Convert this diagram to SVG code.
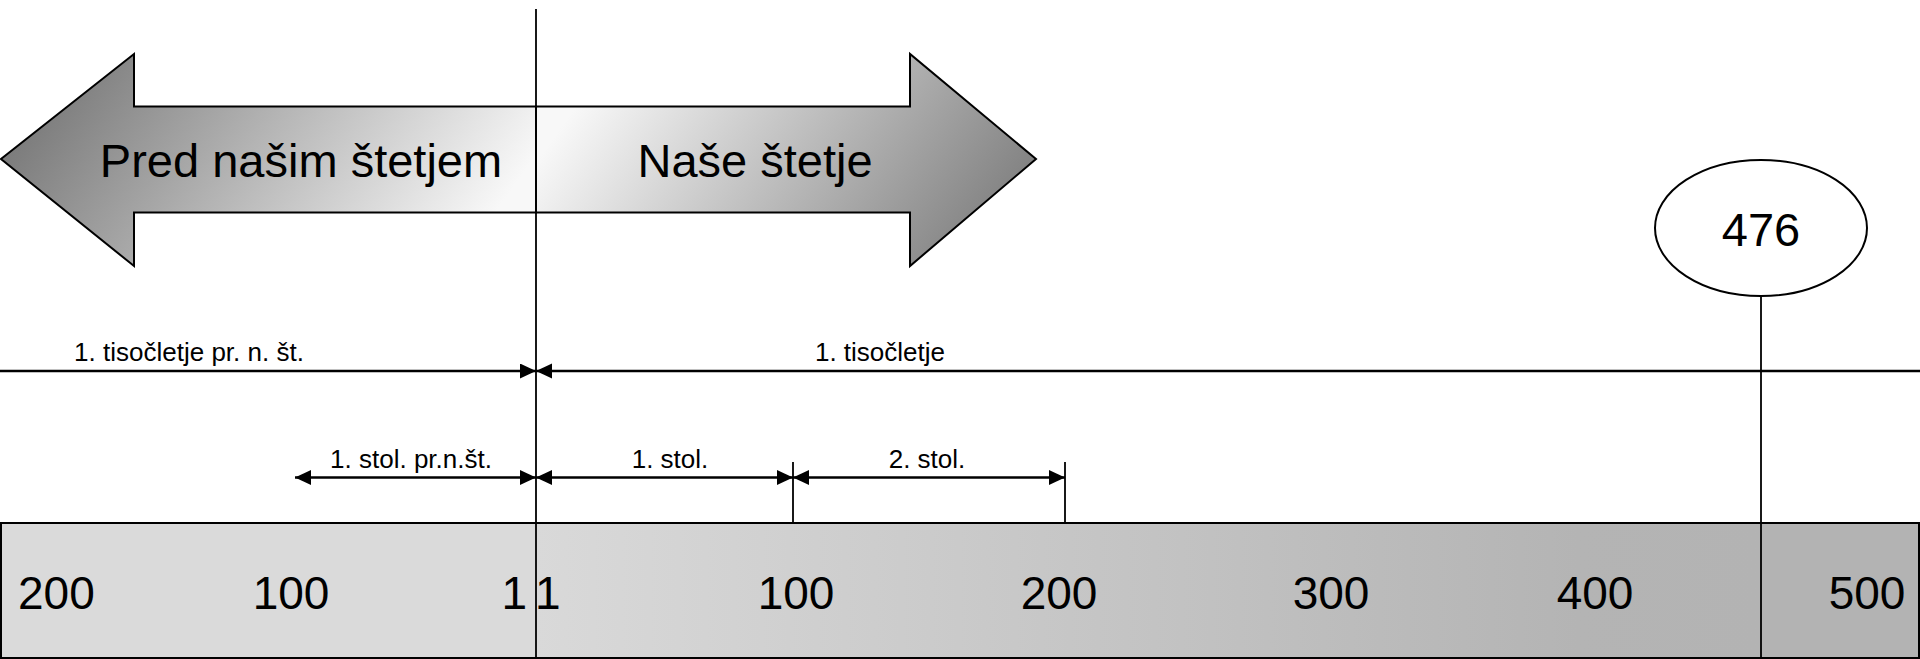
<svg xmlns="http://www.w3.org/2000/svg" width="1920" height="659" viewBox="0 0 1920 659">
<style>
text{font-family:"Liberation Sans",Arial,sans-serif;fill:#000}
.big{font-size:47px}
.num{font-size:46px}
.sm{font-size:26px}
.c{text-anchor:middle}
.ln{stroke:#000;stroke-width:2.7;fill:none}
.thin{stroke:#000;stroke-width:1.8;fill:none}
.sh{stroke:#000;stroke-width:2;stroke-linejoin:miter}
</style>
<defs>
<marker id="ah" markerUnits="userSpaceOnUse" markerWidth="16" markerHeight="16" refX="16" refY="7.5" orient="auto-start-reverse">
<path d="M0,0 L16,7.5 L0,15 z" fill="#000"/>
</marker>
<linearGradient id="gl" gradientUnits="userSpaceOnUse" x1="90" y1="40" x2="440" y2="290">
<stop offset="0" stop-color="#7c7c7c"/>
<stop offset="1" stop-color="#f8f8f8"/>
</linearGradient>
<linearGradient id="gr" gradientUnits="userSpaceOnUse" x1="632" y1="28" x2="982" y2="278">
<stop offset="0" stop-color="#f8f8f8"/>
<stop offset="1" stop-color="#7c7c7c"/>
</linearGradient>
<linearGradient id="gb" gradientUnits="userSpaceOnUse" x1="536" y1="0" x2="1761" y2="0">
<stop offset="0" stop-color="#d9d9d9"/>
<stop offset="0.85" stop-color="#b4b4b4"/>
<stop offset="1" stop-color="#b3b3b3"/>
</linearGradient>
</defs>

<g id="bar">
<rect x="1" y="523" width="535" height="135" fill="#dadada"/>
<rect x="536" y="523" width="1225" height="135" fill="url(#gb)"/>
<rect x="1761" y="523" width="158" height="135" fill="#b3b3b3"/>
<rect x="1" y="523" width="1918" height="135" fill="none" stroke="#000" stroke-width="2"/>
<text class="num" x="18" y="609">200</text>
<text class="num c" x="291" y="609">100</text>
<text class="num" x="527" y="609" text-anchor="end">1</text>
<text class="num" x="535" y="609">1</text>
<text class="num c" x="796" y="609">100</text>
<text class="num c" x="1059" y="609">200</text>
<text class="num c" x="1331" y="609">300</text>
<text class="num c" x="1595" y="609">400</text>
<text class="num c" x="1867" y="609">500</text>
</g>

<g id="arrow-bc">
<path class="sh" fill="url(#gl)" d="M536,106.5 L134,106.5 L134,54 L1,159 L134,266 L134,212.5 L536,212.5 Z"/>
<text class="big c" x="301" y="177">Pred našim štetjem</text>
</g>

<g id="arrow-ad">
<path class="sh" fill="url(#gr)" d="M536,106.5 L910,106.5 L910,54 L1036,159 L910,266 L910,212.5 L536,212.5 Z"/>
<text class="big c" x="755" y="177">Naše štetje</text>
</g>

<g id="event-476">
<ellipse cx="1761" cy="228" rx="106" ry="68" fill="#fff" stroke="#000" stroke-width="2"/>
<text class="big c" x="1761" y="246">476</text>
</g>

<g id="connectors">
<line class="thin" x1="536" y1="9" x2="536" y2="659"/>
<line class="thin" x1="1761" y1="296" x2="1761" y2="659"/>
<line class="thin" x1="793" y1="462" x2="793" y2="523"/>
<line class="thin" x1="1065" y1="462" x2="1065" y2="523"/>
<line class="ln" x1="0" y1="371" x2="536" y2="371" marker-end="url(#ah)"/>
<line class="ln" x1="1920" y1="371" x2="536" y2="371" marker-end="url(#ah)"/>
<line class="ln" x1="295" y1="477.5" x2="536" y2="477.5" marker-start="url(#ah)" marker-end="url(#ah)"/>
<line class="ln" x1="536" y1="477.5" x2="793" y2="477.5" marker-start="url(#ah)" marker-end="url(#ah)"/>
<line class="ln" x1="793" y1="477.5" x2="1065" y2="477.5" marker-start="url(#ah)" marker-end="url(#ah)"/>
</g>

<g id="labels">
<text class="sm c" x="189" y="361">1. tisočletje pr. n. št.</text>
<text class="sm c" x="880" y="361">1. tisočletje</text>
<text class="sm c" x="411" y="468">1. stol. pr.n.št.</text>
<text class="sm c" x="670" y="468">1. stol.</text>
<text class="sm c" x="927" y="468">2. stol.</text>
</g>
</svg>
